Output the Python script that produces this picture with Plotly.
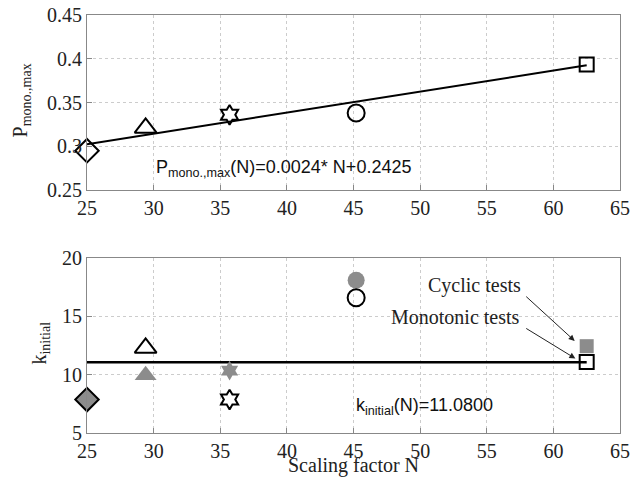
import plotly.graph_objects as go

# ---- data ----
N_vals = [25.0, 29.4, 35.7, 45.2, 62.5]
symbols_open = ["diamond-open", "triangle-up-open", "hexagram-open", "circle-open", "square-open"]
symbols_fill = ["diamond", "triangle-up", "hexagram", "circle", "square"]
P_mono = [0.295, 0.321, 0.336, 0.338, 0.3935]
k_mono = [7.87, 12.3, 7.87, 16.6, 11.1]
k_cyc = [7.9, 9.95, 10.35, 18.1, 12.45]
fit_slope = 0.0024
fit_intercept = 0.2425
k_const = 11.08
fit_x = [25.0, 62.5]
p_ticks = [0.25, 0.3, 0.35, 0.4, 0.45]
p_ticktext = ["0.25", "0.3", "0.35", "0.4", "0.45"]
marker_sizes = [18, 19, 15, 17, 14]

serif = "Liberation Serif, Times New Roman, serif"
sans = "Liberation Sans, Arial, sans-serif"
gray = "#8c8c8c"
axcol = "#888888"

fig = go.Figure()

fig.add_trace(go.Scatter(x=fit_x, y=[fit_slope * v + fit_intercept for v in fit_x],
                         mode="lines", line=dict(color="black", width=2), cliponaxis=False,
                         xaxis="x", yaxis="y", showlegend=False))
for i, n in enumerate(N_vals):
    fig.add_trace(go.Scatter(x=[n], y=[P_mono[i]], mode="markers", cliponaxis=False,
                             marker=dict(symbol=symbols_open[i], size=marker_sizes[i],
                                         color="black", line=dict(width=2, color="black")),
                             xaxis="x", yaxis="y", showlegend=False))

fig.add_trace(go.Scatter(x=fit_x, y=[k_const, k_const], mode="lines", cliponaxis=False,
                         line=dict(color="black", width=2.5),
                         xaxis="x2", yaxis="y2", showlegend=False))
for i, n in enumerate(N_vals):
    fig.add_trace(go.Scatter(x=[n], y=[k_cyc[i]], mode="markers", cliponaxis=False,
                             marker=dict(symbol=symbols_fill[i], size=marker_sizes[i],
                                         color=gray, line=dict(width=0)),
                             xaxis="x2", yaxis="y2", showlegend=False))
for i, n in enumerate(N_vals):
    fig.add_trace(go.Scatter(x=[n], y=[k_mono[i]], mode="markers", cliponaxis=False,
                             marker=dict(symbol=symbols_open[i], size=marker_sizes[i],
                                         color="black", line=dict(width=2, color="black")),
                             xaxis="x2", yaxis="y2", showlegend=False))

common_axis = dict(showline=True, mirror=True, linecolor=axcol, linewidth=1,
                   ticks="inside", ticklen=5, tickcolor=axcol, automargin=False,
                   ticklabeloverflow="allow",
                   showgrid=True, gridcolor="#cccccc", griddash="dot", gridwidth=1,
                   zeroline=False, tickfont=dict(family=serif, size=20, color="#222"))

FW, FH = 637, 481
L, R, T, B = 86.7, 17.0, 15.0, 48.3
W = FW - L - R
H = FH - T - B

def px(xp):
    return (xp - L) / W
def py(yp):
    return (FH - B - yp) / H

top_bot = py(190)
bot_top = py(258)

fig.update_layout(
    width=FW, height=FH,
    margin=dict(l=L, r=R, t=T, b=B),
    font=dict(family=serif),
    paper_bgcolor="white", plot_bgcolor="white",
    xaxis=dict(domain=[0, 1], range=[25, 65], dtick=5, anchor="y", **common_axis),
    yaxis=dict(domain=[top_bot, 1], range=[0.25 - 1e-7, 0.45 + 1e-7], anchor="x",
               tickvals=p_ticks, ticktext=p_ticktext, **common_axis),
    xaxis2=dict(domain=[0, 1], range=[25, 65], dtick=5, anchor="y2", **common_axis),
    yaxis2=dict(domain=[0, bot_top], range=[5, 20], dtick=5, anchor="x2", **common_axis),
)

annotations = [
    dict(x=px(21), y=py(100), xref="paper", yref="paper", textangle=-90, showarrow=False,
         xanchor="center", yanchor="middle",
         text="P<sub>mono.,max</sub>", font=dict(family=serif, size=20, color="#222")),
    dict(x=px(40), y=py(343), xref="paper", yref="paper", textangle=-90, showarrow=False,
         xanchor="center", yanchor="middle",
         text="k<sub>initial</sub>", font=dict(family=serif, size=20, color="#222")),
    dict(x=px(353), y=py(465), xref="paper", yref="paper", showarrow=False,
         xanchor="center", yanchor="middle",
         text="Scaling factor N", font=dict(family=serif, size=20, color="#222")),
    dict(x=30, y=0.275, xref="x", yref="y", xanchor="left", yanchor="middle", showarrow=False,
         text="P<sub>mono.,max</sub>(N)=0.0024* N+0.2425",
         font=dict(family=sans, size=18, color="#111")),
    dict(x=45, y=7.3, xref="x2", yref="y2", xanchor="left", yanchor="middle", showarrow=False,
         text="k<sub>initial</sub>(N)=11.0800",
         font=dict(family=sans, size=18, color="#111")),
    dict(x=54.05, y=17.68, xref="x2", yref="y2", showarrow=False, text="Cyclic tests",
         font=dict(family=serif, size=20, color="#222")),
    dict(x=52.66, y=14.91, xref="x2", yref="y2", showarrow=False, text="Monotonic tests",
         font=dict(family=serif, size=20, color="#222")),
    dict(x=61.6, y=12.9, xref="x2", yref="y2", ax=57.85, ay=16.82, axref="x2", ayref="y2",
         text="", showarrow=True, arrowhead=2, arrowsize=1.2, arrowwidth=1, arrowcolor="#222"),
    dict(x=61.65, y=11.39, xref="x2", yref="y2", ax=57.85, ay=14.05, axref="x2", ayref="y2",
         text="", showarrow=True, arrowhead=2, arrowsize=1.2, arrowwidth=1, arrowcolor="#222"),
]
fig.update_layout(annotations=annotations)

# remove the browser's default 8px body margin so the figure fills the window exactly
fig.write_html("out.html", config={"displayModeBar": False},
               post_script="document.body.style.margin='0';document.body.style.overflow='hidden';")
